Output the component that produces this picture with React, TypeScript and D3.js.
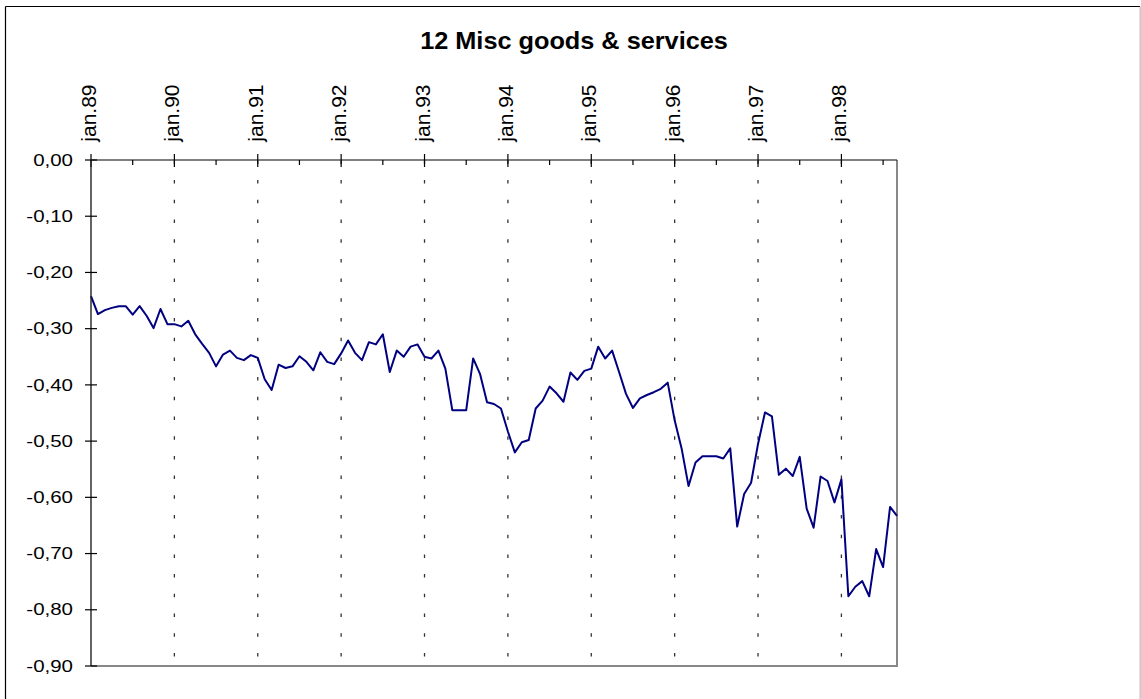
import React from "react";
import * as d3 from "d3";

const title = "12 Misc goods & services";
const yearLabels = ["jan.89", "jan.90", "jan.91", "jan.92", "jan.93", "jan.94", "jan.95", "jan.96", "jan.97", "jan.98"];
const yTicks = [0, -0.1, -0.2, -0.3, -0.4, -0.5, -0.6, -0.7, -0.8, -0.9];
// monthly values Jan 1989 .. Sep 1998
const values = [
  -0.242, -0.274, -0.267, -0.263, -0.26, -0.26, -0.275, -0.26, -0.277, -0.299, -0.265, -0.292,
  -0.292, -0.296, -0.286, -0.31, -0.327, -0.343, -0.367, -0.346, -0.339, -0.352, -0.356, -0.347,
  -0.352, -0.39, -0.409, -0.364, -0.37, -0.367, -0.349, -0.359, -0.374, -0.342, -0.359, -0.363,
  -0.344, -0.321, -0.343, -0.356, -0.324, -0.328, -0.31, -0.377, -0.339, -0.35, -0.332, -0.328,
  -0.35, -0.353, -0.339, -0.371, -0.445, -0.445, -0.445, -0.353, -0.381, -0.431, -0.434, -0.442,
  -0.483, -0.52, -0.502, -0.498, -0.442, -0.428, -0.403, -0.415, -0.43, -0.378, -0.391, -0.375,
  -0.371, -0.332, -0.353, -0.339, -0.377, -0.416, -0.441, -0.424, -0.418, -0.413, -0.407, -0.396,
  -0.463, -0.513, -0.58, -0.538, -0.527, -0.527, -0.527, -0.531, -0.513, -0.652, -0.594, -0.574,
  -0.505, -0.449, -0.456, -0.56, -0.549, -0.562, -0.528, -0.62, -0.654, -0.563, -0.571, -0.609,
  -0.568, -0.776, -0.759, -0.749, -0.776, -0.692, -0.724, -0.617, -0.633,
];

const W = 1141;
const H = 699;
const left = 91;
const right = 897;
const top = 160;
const bottom = 666;

export default function App() {
  const x = d3.scaleLinear().domain([0, values.length - 1]).range([left, right]);
  const y = d3.scaleLinear().domain([-0.9, 0]).range([bottom, top]);
  const line = d3
    .line<number>()
    .x((_, i) => x(i))
    .y((d) => y(d));
  const fmt = (v: number) => d3.format(".2f")(v).replace("−", "-").replace(".", ",");
  const minor = yearLabels.map((_, i) => i * 12 + 6).filter((m) => m <= values.length - 1);
  const font = "'Liberation Sans', Arial, sans-serif";

  return (
    <svg
      width={W}
      height={H}
      style={{ position: "absolute", left: 0, top: 0, background: "#fff" }}
      fontFamily={font}
    >
      <rect x={0} y={0} width={W} height={H} fill="#fff" />
      {/* outer frame */}
      <line x1={5.5} y1={6.5} x2={1140} y2={6.5} stroke="#000" strokeWidth={1.2} />
      <line x1={5.5} y1={6.5} x2={5.5} y2={H} stroke="#000" strokeWidth={1.2} />
      <line x1={1140.2} y1={6.5} x2={1140.2} y2={H} stroke="#bbb" strokeWidth={1.2} />

      {/* title */}
      <g transform={`translate(574,49.3) scale(1.1,1)`}>
        <text textAnchor="middle" fontSize={23} fontWeight="bold" fill="#000">
          {title}
        </text>
      </g>

      {/* vertical dashed gridlines */}
      {yearLabels.slice(1).map((_, k) => {
        const xi = x((k + 1) * 12);
        return (
          <line
            key={"g" + k}
            x1={xi}
            x2={xi}
            y1={top}
            y2={bottom}
            stroke="#333"
            strokeWidth={1.3}
            strokeDasharray="3.5 16.2"
            strokeDashoffset={19.3}
          />
        );
      })}

      {/* plot border right & bottom */}
      <line x1={right} y1={top} x2={right} y2={bottom + 1} stroke="#888" strokeWidth={2} />
      <line x1={left} y1={bottom} x2={right + 1} y2={bottom} stroke="#888" strokeWidth={2} />

      {/* series */}
      <path d={line(values) || ""} fill="none" stroke="#000080" strokeWidth={2} strokeLinejoin="round" />

      {/* top axis */}
      <line x1={left} y1={top} x2={right} y2={top} stroke="#000" strokeWidth={1.2} />
      {yearLabels.map((lab, k) => {
        const xi = x(k * 12);
        return (
          <g key={"x" + k}>
            <line x1={xi} x2={xi} y1={154} y2={167} stroke="#000" strokeWidth={1.2} />
            <g transform={`translate(${xi},141.7) rotate(-90)`}>
              <text x={0} y={5} fontSize={21} fill="#000" textAnchor="start">
                {lab}
              </text>
            </g>
          </g>
        );
      })}
      {minor.map((m) => (
        <line key={"m" + m} x1={x(m)} x2={x(m)} y1={160} y2={165} stroke="#000" strokeWidth={1.2} />
      ))}

      {/* left axis */}
      <line x1={left} y1={top} x2={left} y2={bottom} stroke="#222" strokeWidth={1.4} />
      {yTicks.map((v) => (
        <g key={"y" + v}>
          <line x1={85} x2={97} y1={y(v)} y2={y(v)} stroke="#000" strokeWidth={1.2} />
          <g transform={`translate(73,${y(v) + 5.7}) scale(1.28,1)`}>
            <text textAnchor="end" fontSize={16} fill="#000">
              {fmt(v)}
            </text>
          </g>
        </g>
      ))}
    </svg>
  );
}
